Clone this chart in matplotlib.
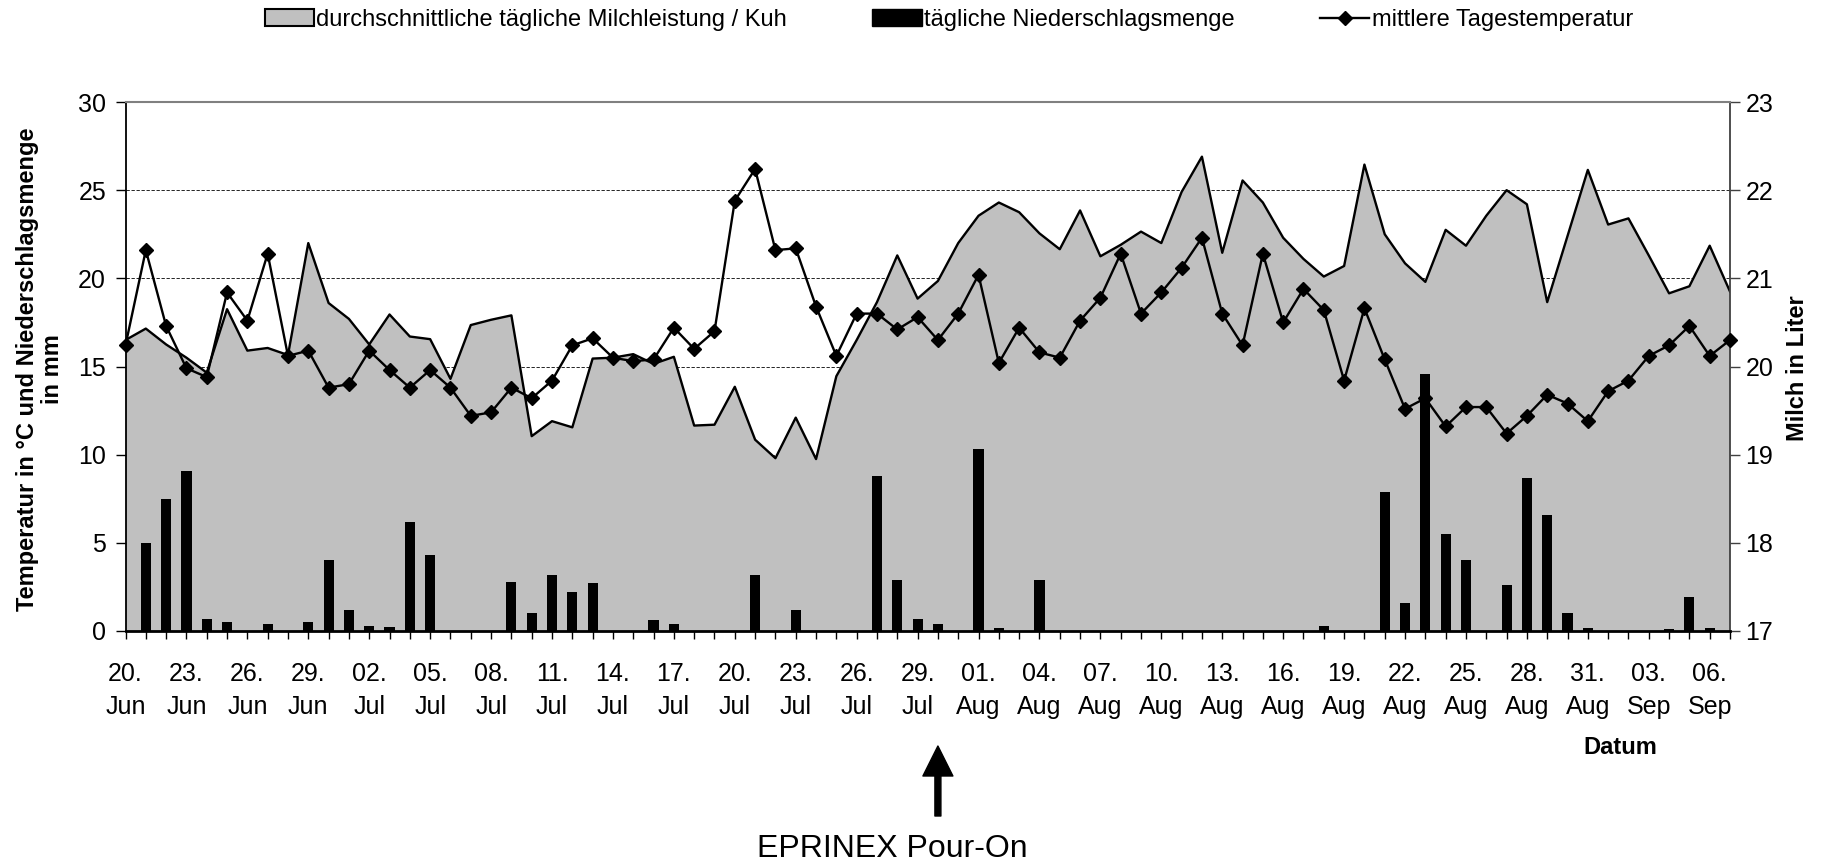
import matplotlib
matplotlib.use('Agg')
import matplotlib.pyplot as plt
from matplotlib.patches import FancyArrowPatch, Patch
from matplotlib.lines import Line2D
from matplotlib.transforms import blended_transform_factory

plt.rcParams['font.family'] = ['Liberation Sans', 'DejaVu Sans']

# ---------------- data ----------------
days = list(range(80))  # 20 Jun .. 07 Sep

tick_days = list(range(0, 79, 3))
tick_labels = ["20.\nJun", "23.\nJun", "26.\nJun", "29.\nJun", "02.\nJul", "05.\nJul",
               "08.\nJul", "11.\nJul", "14.\nJul", "17.\nJul", "20.\nJul", "23.\nJul",
               "26.\nJul", "29.\nJul", "01.\nAug", "04.\nAug", "07.\nAug", "10.\nAug",
               "13.\nAug", "16.\nAug", "19.\nAug", "22.\nAug", "25.\nAug", "28.\nAug",
               "31.\nAug", "03.\nSep", "06.\nSep"]

temperature = [16.2, 21.6, 17.3, 14.9, 14.4, 19.2, 17.6, 21.4, 15.6, 15.9,
               13.8, 14.0, 15.9, 14.8, 13.8, 14.8, 13.8, 12.2, 12.4, 13.8,
               13.2, 14.2, 16.2, 16.6, 15.5, 15.3, 15.4, 17.2, 16.0, 17.0,
               24.4, 26.2, 21.6, 21.7, 18.4, 15.6, 18.0, 18.0, 17.1, 17.8,
               16.5, 18.0, 20.2, 15.2, 17.2, 15.8, 15.5, 17.6, 18.9, 21.4,
               18.0, 19.2, 20.6, 22.3, 18.0, 16.2, 21.4, 17.5, 19.4, 18.2,
               14.2, 18.3, 15.4, 12.6, 13.2, 11.6, 12.7, 12.7, 11.2, 12.2,
               13.4, 12.9, 11.9, 13.6, 14.2, 15.6, 16.2, 17.3, 15.6, 16.5]

milk = [20.30, 20.43, 20.25, 20.10, 19.93, 20.65, 20.18, 20.21, 20.13, 21.40,
        20.72, 20.54, 20.25, 20.59, 20.34, 20.31, 19.86, 20.47, 20.53, 20.58,
        19.21, 19.38, 19.31, 20.09, 20.10, 20.14, 20.03, 20.11, 19.33, 19.34,
        19.77, 19.17, 18.96, 19.42, 18.95, 19.89, 20.30, 20.73, 21.26, 20.77,
        20.97, 21.40, 21.71, 21.86, 21.75, 21.51, 21.33, 21.77, 21.25, 21.38,
        21.53, 21.40, 21.98, 22.38, 21.29, 22.11, 21.86, 21.46, 21.22, 21.02,
        21.14, 22.29, 21.50, 21.17, 20.96, 21.55, 21.37, 21.71, 22.00, 21.84,
        20.73, 21.48, 22.23, 21.61, 21.68, 21.26, 20.83, 20.91, 21.37, 20.85]

rain = [0.0, 5.0, 7.5, 9.1, 0.7, 0.5, 0.0, 0.4, 0.0, 0.5,
        4.0, 1.2, 0.3, 0.2, 6.2, 4.3, 0.0, 0.0, 0.0, 2.8,
        1.0, 3.2, 2.2, 2.7, 0.0, 0.0, 0.6, 0.4, 0.0, 0.0,
        0.0, 3.2, 0.0, 1.2, 0.0, 0.0, 0.0, 8.8, 2.9, 0.7,
        0.4, 0.0, 10.3, 0.15, 0.0, 2.9, 0.0, 0.0, 0.0, 0.0,
        0.0, 0.0, 0.0, 0.0, 0.0, 0.0, 0.0, 0.0, 0.0, 0.3,
        0.0, 0.0, 7.9, 1.6, 14.6, 5.5, 4.0, 0.0, 2.6, 8.7,
        6.6, 1.0, 0.15, 0.0, 0.0, 0.0, 0.1, 1.9, 0.15, 0.0]

treatment_day = 40  # 30 Jul
legend_labels = ["durchschnittliche tägliche Milchleistung / Kuh",
                 "tägliche Niederschlagsmenge",
                 "mittlere Tagestemperatur"]

# ---------------- figure ----------------
W, H = 1821, 865
fig = plt.figure(figsize=(W / 100, H / 100), dpi=100)
left, right, bottom, top = 125.5 / W, 1730 / W, 1 - 631 / H, 1 - 102 / H
ax = fig.add_axes([left, bottom, right - left, top - bottom])
ax2 = ax.twinx()

# host axis: milk (right scale)
ax.set_xlim(0, 79)
ax.set_ylim(17, 23)
ax.set_yticks(range(17, 24))
ax.set_axisbelow(True)
ax.yaxis.grid(True, linestyle=(0, (4, 2)), color='black', linewidth=0.6)
ax.fill_between(days, 17, milk, facecolor='#C0C0C0', edgecolor='none', zorder=1)
ax.plot(days, milk, color='black', linewidth=1.7, zorder=2)
ax.yaxis.tick_right()
ax.yaxis.set_label_position('right')
for s in ax.spines.values():
    s.set_visible(False)

# overlay axis: temperature & precipitation (left scale)
ax2.yaxis.tick_left()
ax2.yaxis.set_label_position('left')
ax2.set_ylim(0, 30)
ax2.set_yticks(range(0, 31, 5))
ax2.bar(days, rain, width=0.5, color='black', zorder=2)
ax2.plot(days, temperature, color='black', linewidth=1.7, marker='D',
         markersize=7, zorder=3, clip_on=False)

ax2.spines['left'].set_color('black')
ax2.spines['left'].set_linewidth(1.3)
ax2.spines['bottom'].set_color('black')
ax2.spines['bottom'].set_linewidth(2.0)
ax2.spines['right'].set_color('#404040')
ax2.spines['right'].set_linewidth(1.3)
ax2.spines['top'].set_color('#808080')
ax2.spines['top'].set_linewidth(1.5)

# x ticks (every day, labels every third day)
ax.set_xticks(days)
lab_map = dict(zip(tick_days, tick_labels))
ax.set_xticklabels([lab_map.get(d, '') for d in days])
for lbl in ax.get_xticklabels():
    lbl.set_linespacing(1.45)
ax.tick_params(axis='x', length=6, width=1, direction='out', color='black',
               labelsize=18, pad=16.5)
ax.tick_params(axis='y', length=7, width=1, color='#404040', labelsize=18, pad=4,
               right=True, left=False, labelright=True, labelleft=False)
ax2.tick_params(axis='y', length=7, width=1, color='black', labelsize=18, pad=7)

# legend
handles = [Patch(facecolor='#C0C0C0', edgecolor='black', linewidth=1.5),
           Patch(facecolor='black', edgecolor='black'),
           Line2D([], [], color='black', linewidth=1.7, marker='D', markersize=7)]
fig.legend(handles, legend_labels, loc='center', bbox_to_anchor=(0.521, 1 - 20 / H),
           ncol=3, frameon=False, fontsize=17, handlelength=2.1, handleheight=0.75,
           handletextpad=0.1, columnspacing=3.6)

# axis titles
fig.text(40 / W, 1 - 369 / H, "Temperatur in °C und Niederschlagsmenge\nin mm",
         rotation=90, ha='center', va='center', fontweight='bold', fontsize=17,
         multialignment='center', linespacing=1.15)
fig.text(1797 / W, 1 - 368 / H, "Milch in Liter", rotation=90, ha='center',
         va='center', fontweight='bold', fontsize=17)
fig.text(1620 / W, 1 - 747 / H, "Datum", ha='center', va='center',
         fontweight='bold', fontsize=17)

# treatment arrow
trans = blended_transform_factory(ax2.transData, fig.transFigure)
arrow = FancyArrowPatch((treatment_day, 1 - 816 / H), (treatment_day, 1 - 746 / H),
                        transform=trans,
                        arrowstyle='simple,head_length=1,head_width=1,tail_width=0.2',
                        mutation_scale=21.6, color='black', shrinkA=0, shrinkB=0)
fig.add_artist(arrow)
fig.text(892 / W, 1 - 849 / H, "EPRINEX Pour-On", ha='center', va='center', fontsize=23)

fig.savefig('out.png', dpi=100)
